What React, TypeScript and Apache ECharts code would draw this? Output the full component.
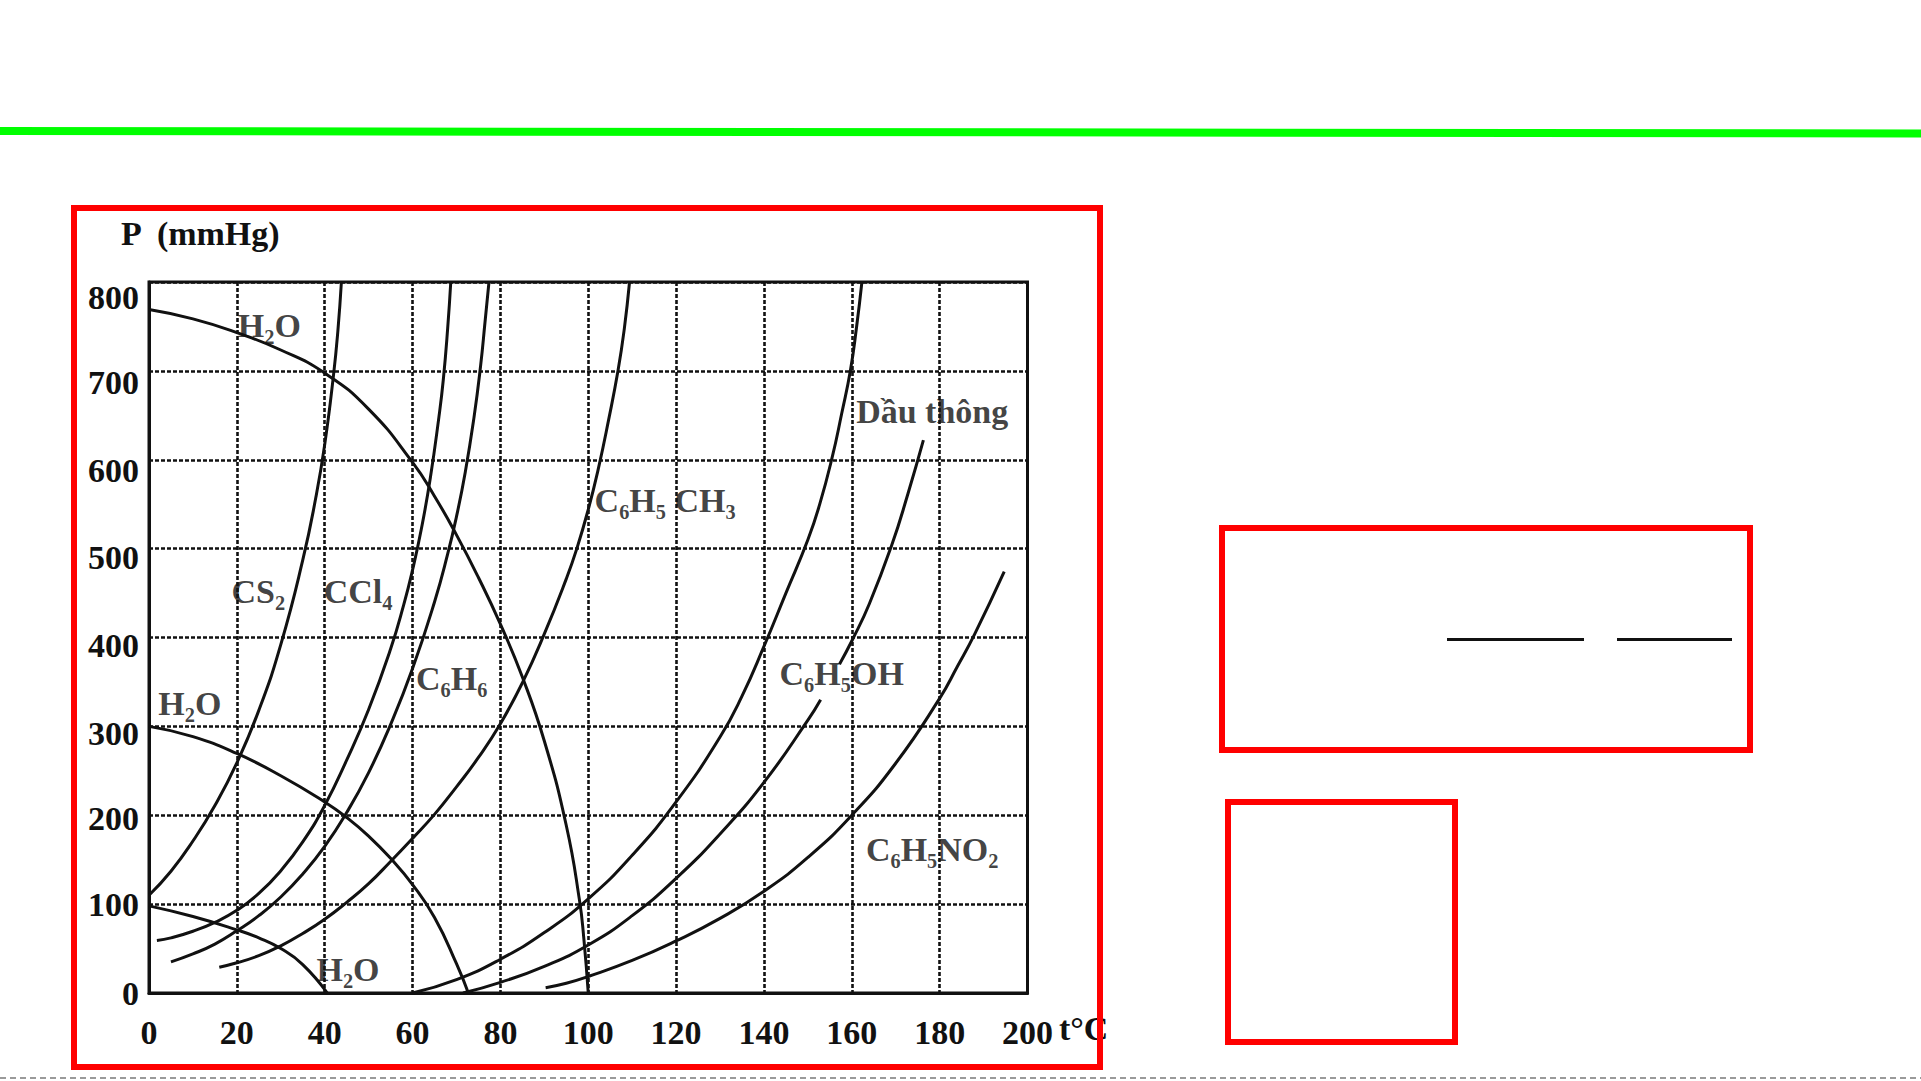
import React, { useEffect, useRef } from "react";
import * as echarts from "echarts";

// ---- axis ticks ----
const xTickLabels = ["0", "20", "40", "60", "80", "100", "120", "140", "160", "180", "200"];
const yTickLabels = ["0", "100", "200", "300", "400", "500", "600", "700", "800"];

// ---- curves: [t (°C), P (mmHg)] ----
const waterTop = [[0, 769], [10, 758.5], [20, 743], [30, 723.5], [40, 697.5], [50, 657], [60, 597], [65, 559], [70, 515.5], [75, 467.5], [80, 415], [85, 355.5], [90, 283.5], [95, 188.5], [98, 104.5], [99, 61], [100, 0]];
const waterMid = [[0, 300], [10, 288.5], [20, 269.5], [30, 244.5], [40, 215], [45, 197.5], [50, 176.5], [55, 151.5], [60, 122], [65, 85], [70, 33], [72.7, 0]];
const waterLow = [[0, 98], [10, 86], [20, 71], [25, 62], [30, 50], [35, 32], [40.6, 0]];
const cs2 = [[0, 110], [5, 137], [10, 171], [15, 211], [20, 259], [25, 318], [30, 392], [35, 487], [38, 558], [40, 617], [42, 695], [43, 745], [43.8, 800]];
const ccl4 = [[1.8, 59], [5, 62], [10, 69.5], [15, 79.5], [20, 93], [25, 112], [30, 137.5], [35, 170], [40, 211], [45, 262], [50, 319], [55, 387], [58, 437], [60, 476], [62, 522], [64, 578], [66, 648], [67, 690], [68, 748], [68.7, 800]];
const benzene = [[5, 35], [10, 44], [15, 55], [20, 70], [25, 87], [30, 108], [35, 134], [40, 165], [45, 203], [50, 248], [55, 302], [60, 365], [65, 440], [68, 494], [70, 536], [72, 586], [74, 648], [75.5, 706], [76.5, 755], [77.4, 800]];
const toluene = [[16, 29], [20, 34], [25, 42], [30, 53], [35, 67], [40, 83], [45, 102], [50, 123], [55, 148], [60, 174], [65, 201], [70, 232], [75, 265], [80, 303], [85, 349], [90, 404], [95, 466], [97.4, 500], [100, 544], [102.3, 590], [104.6, 644], [106.8, 701], [108.2, 747], [109.4, 800]];
const turpentine = [[60, 0], [70, 15], [80, 38], [90, 68], [100, 106], [110, 155], [120, 215], [130, 288], [135, 334], [140, 390], [145, 450], [150, 510], [152.7, 550], [155.5, 602], [157.7, 652], [159.7, 701], [161.1, 750], [162.3, 800]];
const phenolLower = [[71.5, 0], [80, 12], [90, 30], [100, 54], [110, 87], [120, 129], [130, 179], [140, 237], [150, 307], [152.9, 330]];
const phenolUpper = [[157.2, 370], [160.2, 398], [164, 438], [169.1, 504], [172.8, 562], [176.3, 622]];
const nitrobenzene = [[90.3, 6], [95, 11], [100, 18.6], [110, 36.6], [120, 58.6], [130, 84], [140, 114.5], [150, 152.5], [160, 200], [170, 258.5], [180, 331.5], [184, 367], [188, 404], [194.7, 474]];

// ---- curve labels ----
const labelTexts = ["H₂O", "CS₂", "CCl₄", "C₆H₆", "H₂O", "H₂O", "C₆H₅ CH₃", "Dầu thông", "C₆H₅OH", "C₆H₅NO₂"];
const labelT = [27.4, 24.9, 47.6, 68.9, 9.3, 45.3, 117.5, 178.3, 157.7, 178.3];
const labelP = [751, 452, 452, 354, 326, 27, 554, 654, 360, 161];

const FONT = '"Liberation Serif", "Times New Roman", serif';
// per-label downward shift of the y tick labels (style only, mimics the scan)
const yLabelPad = [0, 0, 6, 14, 16, 18, 22, 24, 30];

function curve(name: string, data: number[][]) {
  return {
    type: "line",
    name,
    data,
    showSymbol: false,
    symbol: "none",
    smooth: 0.5,
    silent: true,
    z: 3,
    lineStyle: { color: "#111", width: 3 },
  };
}

export default function App() {
  const ref = useRef<HTMLDivElement>(null);
  useEffect(() => {
    if (!ref.current) return;
    const chart = echarts.init(ref.current, null, { renderer: "svg" });
    const yRich: any = {};
    yLabelPad.forEach((p, i) => {
      yRich["p" + i] = {
        padding: [p, 0, 0, 0],
        fontFamily: FONT,
        fontSize: 34,
        fontWeight: "bold",
        color: "#111",
      };
    });
    const gridLine = { show: true, lineStyle: { type: [4, 2], color: "#111", width: 2.6 } };
    const option: any = {
      animation: false,
      backgroundColor: "#ffffff",
      grid: {
        left: 149,
        top: 282,
        width: 878.5,
        height: 711,
        show: true,
        borderColor: "#111",
        borderWidth: 3,
        backgroundColor: "transparent",
      },
      xAxis: {
        type: "value",
        min: 0,
        max: 200,
        interval: 20,
        axisLine: { show: true, lineStyle: { color: "#111", width: 3 } },
        axisTick: { show: false },
        axisLabel: {
          margin: 22,
          fontFamily: FONT,
          fontSize: 34,
          fontWeight: "bold",
          color: "#111",
          formatter: (v: number) => xTickLabels[Math.round(v / 20)],
        },
        splitLine: gridLine,
        name: "t°C",
        nameLocation: "end",
        nameGap: 28,
        nameTextStyle: {
          fontFamily: FONT,
          fontSize: 34,
          fontWeight: "bold",
          color: "#111",
          align: "left",
          verticalAlign: "top",
          padding: [18, 0, 0, 0],
        },
      },
      yAxis: {
        type: "value",
        min: 0,
        max: 800,
        interval: 100,
        axisLine: { show: true, lineStyle: { color: "#111", width: 3 } },
        axisTick: { show: false },
        axisLabel: {
          margin: 10,
          fontFamily: FONT,
          fontSize: 34,
          fontWeight: "bold",
          color: "#111",
          rich: yRich,
          formatter: (v: number) => {
            const i = Math.round(v / 100);
            return "{p" + i + "|" + yTickLabels[i] + "}";
          },
        },
        splitLine: gridLine,
      },
      series: [
        curve("H₂O (1)", waterTop),
        curve("H₂O (2)", waterMid),
        curve("H₂O (3)", waterLow),
        curve("CS₂", cs2),
        curve("CCl₄", ccl4),
        curve("C₆H₆", benzene),
        curve("C₆H₅CH₃", toluene),
        curve("Dầu thông", turpentine),
        curve("C₆H₅OH", phenolLower),
        curve("C₆H₅OH ", phenolUpper),
        curve("C₆H₅NO₂", nitrobenzene),
        {
          type: "scatter",
          name: "labels",
          silent: true,
          z: 5,
          symbolSize: 1,
          itemStyle: { color: "rgba(0,0,0,0)" },
          data: labelTexts.map((txt, i) => ({ name: txt, value: [labelT[i], labelP[i]] })),
          label: {
            show: true,
            position: "inside",
            formatter: "{b}",
            fontFamily: FONT,
            fontSize: 34,
            fontWeight: "bold",
            color: "#111",
          },
        },
      ],
      graphic: [
        {
          type: "line",
          shape: { x1: 0, y1: 131, x2: 1921, y2: 133.5 },
          style: { stroke: "#00ff00", lineWidth: 8 },
        },
        {
          type: "text",
          x: 121,
          y: 233,
          style: {
            text: "P  (mmHg)",
            fontFamily: FONT,
            fontSize: 34,
            fontWeight: "bold",
            fill: "#111",
            align: "left",
            verticalAlign: "middle",
            textAlign: "left",
            textVerticalAlign: "middle",
          },
        },
        {
          type: "rect",
          z: 50,
          shape: { x: 74, y: 208, width: 1026, height: 859 },
          style: { fill: "none", stroke: "#ff0000", lineWidth: 6 },
        },
        {
          type: "rect",
          z: 50,
          shape: { x: 1222, y: 528, width: 528, height: 222 },
          style: { fill: "none", stroke: "#ff0000", lineWidth: 6 },
        },
        {
          type: "rect",
          z: 50,
          shape: { x: 1228, y: 802, width: 227, height: 240 },
          style: { fill: "none", stroke: "#ff0000", lineWidth: 6 },
        },
        {
          type: "line",
          shape: { x1: 1447, y1: 639.5, x2: 1584, y2: 639.5 },
          style: { stroke: "#111", lineWidth: 3 },
        },
        {
          type: "line",
          shape: { x1: 1617, y1: 639.5, x2: 1732, y2: 639.5 },
          style: { stroke: "#111", lineWidth: 3 },
        },
        {
          type: "line",
          shape: { x1: 0, y1: 1078, x2: 1921, y2: 1078 },
          style: { stroke: "#9a9a9a", lineWidth: 2, lineDash: [6, 4] },
        },
      ],
    };
    chart.setOption(option);
    return () => chart.dispose();
  }, []);
  return (
    <div
      ref={ref}
      style={{ position: "fixed", left: 0, top: 0, width: "1921px", height: "1081px", background: "#fff" }}
    />
  );
}
